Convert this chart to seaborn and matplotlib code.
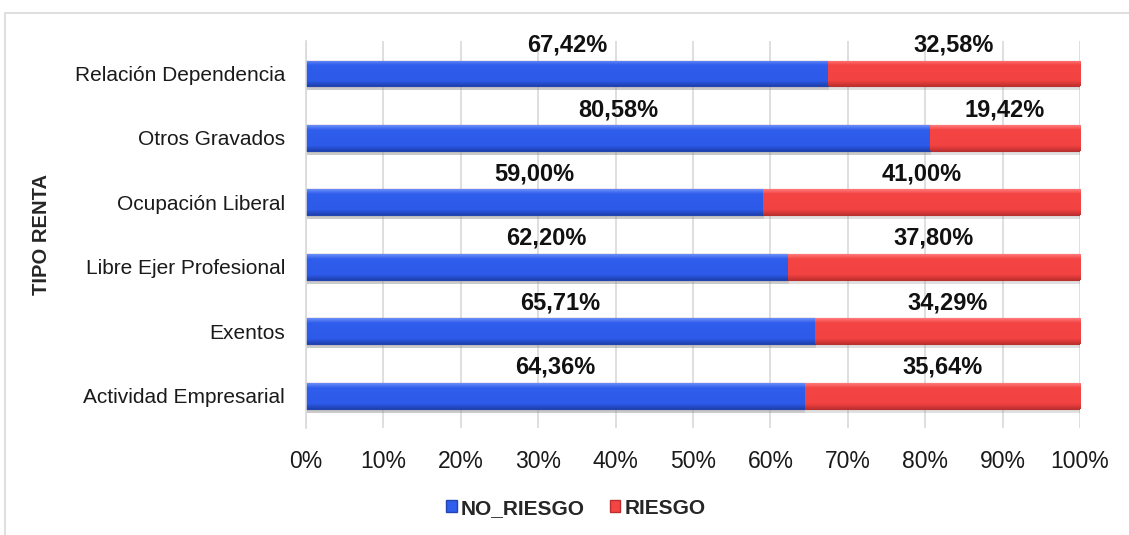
import matplotlib
matplotlib.use("Agg")
import matplotlib.pyplot as plt
import seaborn as sns
import pandas as pd
import numpy as np
from matplotlib.patches import Rectangle
from matplotlib.colors import LinearSegmentedColormap
from matplotlib.ticker import FuncFormatter

categories = ["Relación Dependencia", "Otros Gravados", "Ocupación Liberal",
              "Libre Ejer Profesional", "Exentos", "Actividad Empresarial"]
no_riesgo = [67.42, 80.58, 59.00, 62.20, 65.71, 64.36]
riesgo = [32.58, 19.42, 41.00, 37.80, 34.29, 35.64]
series_names = ["NO_RIESGO", "RIESGO"]

blue = "#2F5DEC"
red = "#F44444"

sns.set_theme(style="white")
plt.rcParams["font.family"] = ["Liberation Sans", "DejaVu Sans"]

df = pd.DataFrame({"cat": categories, "no": no_riesgo, "risk": riesgo})
df["total"] = df["no"] + df["risk"]

fig = plt.figure(figsize=(11.29, 5.35), dpi=100)
ax = fig.add_axes([0.271, 0.2, 0.9566 - 0.271, 0.923 - 0.2])

fig.patches.append(Rectangle((5 / 1129, -0.01), 1.2, 1 - 13 / 535 + 0.01,
                             transform=fig.transFigure, fill=False,
                             edgecolor="#D9D9D9", linewidth=1.2))

sns.barplot(data=df, y="cat", x="total", color=red, orient="h", width=0.40,
            ax=ax, edgecolor="#B83030", linewidth=0.8, saturation=1)
n_red = len(ax.patches)
sns.barplot(data=df, y="cat", x="no", color=blue, orient="h", width=0.40,
            ax=ax, edgecolor="#2245B0", linewidth=0.8, saturation=1)

# bevel-like vertical gradient on each bar
cmap_red = LinearSegmentedColormap.from_list(
    "r", [(0, "#FF7A7A"), (0.18, "#F44444"), (0.8, "#F24242"), (1, "#C03030")])
cmap_blue = LinearSegmentedColormap.from_list(
    "b", [(0, "#6A8EF8"), (0.18, "#2F5DEC"), (0.8, "#2D5AE8"), (1, "#1E40B0")])
grad = np.linspace(0, 1, 64).reshape(-1, 1)
for k, p in enumerate(list(ax.patches)):
    x0, y0 = p.get_x(), p.get_y()
    w, h = p.get_width(), p.get_height()
    ax.add_patch(Rectangle((x0 + 0.15, y0 + h), w, 0.06, facecolor="#999999",
                           alpha=0.3, edgecolor="none", zorder=p.get_zorder() - 0.1))
    cm = cmap_red if k < n_red else cmap_blue
    im = ax.imshow(grad, cmap=cm, aspect="auto", extent=(x0, x0 + w, y0 + h, y0),
                   zorder=p.get_zorder() + 0.01, interpolation="bilinear")
    im.set_clip_path(p)
ax.set_xlim(0, 100)
ax.set_ylim(len(categories) - 0.5, -0.5)

ax.set_xticks(range(0, 101, 10))
ax.xaxis.set_major_formatter(FuncFormatter(lambda v, p: f"{int(v)}%"))
ax.grid(axis="x", color="#D9D9D9", linewidth=1.2)
ax.set_axisbelow(True)
for s in ["top", "right", "bottom"]:
    ax.spines[s].set_visible(False)
ax.spines["left"].set_color("#D9D9D9")
ax.spines["left"].set_linewidth(1.2)
ax.tick_params(axis="x", labelsize=16.5, length=0, pad=16, colors="#1a1a1a")
ax.tick_params(axis="y", labelsize=15, length=0, pad=15, colors="#1a1a1a")
ax.set_xlabel("")
ax.set_ylabel("TIPO RENTA", fontsize=14.5, fontweight="bold", labelpad=0)
ax.yaxis.set_label_coords((51 - 306) / (1080 - 306), 0.5)

def fmt(v):
    return f"{v:.2f}%".replace(".", ",")

for i, (n, r) in enumerate(zip(no_riesgo, riesgo)):
    ax.text(n / 2, i - 0.44, fmt(n), ha="center", va="center",
            fontsize=17, fontweight="bold", color="#111111", zorder=10)
    ax.text(n + r / 2, i - 0.44, fmt(r), ha="center", va="center",
            fontsize=17, fontweight="bold", color="#111111", zorder=10)

handles = [Rectangle((0, 0), 1, 1, facecolor=blue, edgecolor="#2245B0"),
           Rectangle((0, 0), 1, 1, facecolor=red, edgecolor="#B83030")]
leg = fig.legend(handles, series_names, loc="center", bbox_to_anchor=(0.51, 0.05),
                 ncol=2, frameon=False, handlelength=0.5, handleheight=0.5,
                 handletextpad=0.2, columnspacing=1.2,
                 prop={"weight": "bold", "size": 15})

fig.savefig("out.png", dpi=100)
